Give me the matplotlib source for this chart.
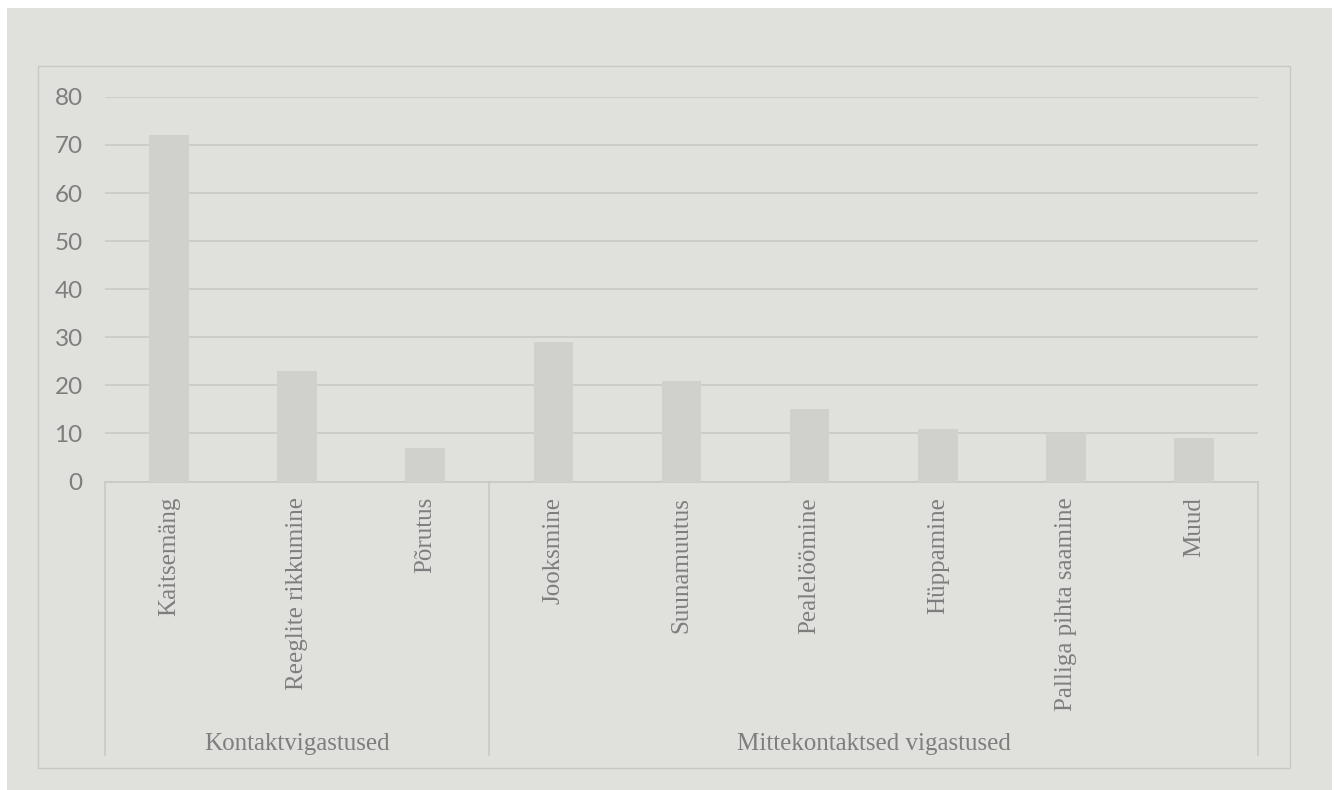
import matplotlib.pyplot as plt
import matplotlib.transforms as mtransforms
from matplotlib.patches import Rectangle
from matplotlib.lines import Line2D

# Injury types and counts
categories = ["Kaitsemäng", "Reeglite rikkumine", "Põrutus",
              "Jooksmine", "Suunamuutus", "Pealelöömine",
              "Hüppamine", "Palliga pihta saamine", "Muud"]
counts = [72, 23, 7, 29, 21, 15, 11, 10, 9]
groups = ["Kontaktvigastused", "Mittekontaktsed vigastused"]
group_sizes = [3, 6]
y_ticks = [0, 10, 20, 30, 40, 50, 60, 70, 80]

W, H = 1335, 790
paper = '#e0e1dd'
bar_col = '#d0d1cd'
line_col = '#c8c9c5'
text_col = '#7e7e7e'

fig = plt.figure(figsize=(W / 100, H / 100), dpi=100, facecolor='white')

# scanned paper background and chart frame
fig.patches.append(Rectangle((7 / W, 0), (1332 - 7) / W, (H - 8) / H,
                             transform=fig.transFigure, facecolor=paper,
                             edgecolor='none', zorder=-2))
fig.patches.append(Rectangle((38 / W, (H - 768) / H), (1290 - 38) / W, (768 - 66) / H,
                             transform=fig.transFigure, facecolor='none',
                             edgecolor=line_col, linewidth=1.0, zorder=-1))

x0, x1 = 105, 1258
y_top, y_zero = 96.9, 481.5
ax = fig.add_axes([x0 / W, (H - y_zero) / H, (x1 - x0) / W, (y_zero - y_top) / H])
ax.set_facecolor('none')

xs = list(range(len(categories)))
ax.bar(xs, counts, width=0.31, color=bar_col, zorder=3)

ax.set_xlim(-0.5, len(categories) - 0.5)
ax.set_ylim(0, 80)
ax.set_yticks(y_ticks)
ax.yaxis.grid(True, color=line_col, linewidth=1.2)
ax.set_axisbelow(True)
for s in ax.spines.values():
    s.set_visible(False)
ax.set_xticks([])
ax.tick_params(axis='y', length=0, pad=16, labelcolor=text_col)
for lbl in ax.get_yticklabels():
    lbl.set_fontfamily('Lato')
    lbl.set_fontsize(17.5)

# multi-level category axis
trans = mtransforms.blended_transform_factory(ax.transData, fig.transFigure)
ax.add_line(Line2D([-0.5, len(categories) - 0.5], [(H - y_zero) / H] * 2,
                   transform=trans, color=line_col, linewidth=1.2, clip_on=False))
bounds = [-0.5]
for n in group_sizes:
    bounds.append(bounds[-1] + n)
for b in bounds:
    ax.add_line(Line2D([b, b], [(H - y_zero) / H, (H - 755) / H], transform=trans,
                       color=line_col, linewidth=1.2, clip_on=False))

for x, name in zip(xs, categories):
    ax.text(x, (H - 497) / H, name, transform=trans, rotation=90,
            ha='center', va='top', fontsize=18, family='Liberation Serif',
            color=text_col)

for i, g in enumerate(groups):
    mid = (bounds[i] + bounds[i + 1]) / 2
    ax.text(mid, (H - 744) / H, g, transform=trans, ha='center', va='center',
            fontsize=18, family='Liberation Serif', color=text_col)

fig.savefig('out.png', dpi=100, facecolor=fig.get_facecolor())
